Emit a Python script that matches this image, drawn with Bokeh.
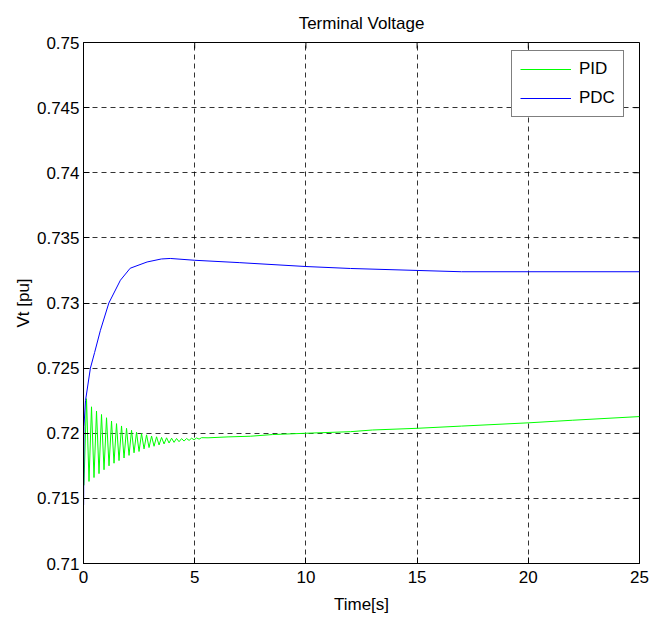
from bokeh.plotting import figure
from bokeh.models import FixedTicker, Legend, LegendItem, Range1d
from bokeh.embed import file_html
from bokeh.resources import INLINE

# ---------------- data ----------------
pdc_t = [0.0, 0.003, 0.02, 0.09, 0.31, 0.5, 0.76, 1.14, 1.66, 2.1, 2.86, 3.5, 3.9,
         5.0, 7.0, 10.0, 12.0, 15.0, 17.0, 20.0, 25.0]
pdc_v = [0.7445, 0.7145, 0.7205, 0.7225, 0.7250, 0.7262, 0.7279, 0.7300, 0.73175,
         0.73267, 0.73315, 0.73338, 0.73342, 0.73328, 0.7331, 0.7328, 0.73265,
         0.7325, 0.7324, 0.7324, 0.7324]

pid_peak_t = [0.135, 0.36, 0.585, 0.81, 1.035, 1.26, 1.485, 1.71, 1.935, 2.16,
              2.385, 2.61, 2.835, 3.06, 3.285, 3.51, 3.735, 3.96, 4.185, 4.41,
              4.635, 4.86, 5.085, 5.31]
pid_peak_v = [0.72265, 0.72203, 0.72170, 0.72144, 0.72119, 0.72094, 0.72074, 0.72056,
              0.72038, 0.72023, 0.72008, 0.71998, 0.71988, 0.71979, 0.71973, 0.71968,
              0.71965, 0.71962, 0.71960, 0.71959, 0.71960, 0.71962, 0.71964, 0.71966]
pid_trough_t = [0.02, 0.2475, 0.4725, 0.6975, 0.9225, 1.1475, 1.3725, 1.5975, 1.8225,
                2.0475, 2.2725, 2.4975, 2.7225, 2.9475, 3.1725, 3.3975, 3.6225, 3.8475,
                4.0725, 4.2975, 4.5225, 4.7475, 4.9725, 5.1975]
pid_trough_v = [0.7160, 0.7163, 0.7166, 0.7169, 0.7172, 0.7175, 0.7177, 0.7179, 0.7181,
                0.7183, 0.7185, 0.7186, 0.7188, 0.7189, 0.7190, 0.7191, 0.71918, 0.71925,
                0.7193, 0.71935, 0.7194, 0.71945, 0.7195, 0.71955]
pid_tail_t = [5.6, 6.5, 7.5, 8.5, 10.0, 12.0, 13.0, 15.0, 17.0, 20.0, 22.0, 25.0]
pid_tail_v = [0.71965, 0.71972, 0.71977, 0.71990, 0.72000, 0.72012, 0.72025, 0.72038,
              0.72055, 0.72080, 0.72100, 0.72128]

x_ticks = [0, 5, 10, 15, 20, 25]
y_ticks = [0.71, 0.715, 0.72, 0.725, 0.73, 0.735, 0.74, 0.745, 0.75]
y_tick_labels = ["0.71", "0.715", "0.72", "0.725", "0.73", "0.735", "0.74", "0.745", "0.75"]

title_text = "Terminal Voltage"
x_label = "Time[s]"
y_label = "Vt [pu]"
series_names = ["PID", "PDC"]

# merge PID oscillation peaks/troughs in time order, then the slow tail
osc = sorted(list(zip(pid_peak_t, pid_peak_v)) + list(zip(pid_trough_t, pid_trough_v)))
pid_t = [a for a, b in osc] + pid_tail_t
pid_v = [b for a, b in osc] + pid_tail_v

FONT = "Liberation Sans"
X0, X1, Y0, Y1 = 0, 25, 0.71, 0.75
W, H = 650, 624
ML, MR, MT, MB = 83, 11, 42, 61

p = figure(width=W, height=H, output_backend="svg", toolbar_location=None,
           x_range=Range1d(X0, X1), y_range=Range1d(Y0, Y1),
           min_border_left=ML, min_border_right=MR, min_border_top=MT, min_border_bottom=MB)
p.background_fill_color = "white"
p.border_fill_color = "white"
p.outline_line_color = "black"
p.outline_line_width = 1

p.title.text = title_text
p.title.align = "center"
p.title.text_font = FONT
p.title.text_font_size = "17px"
p.title.text_font_style = "normal"
p.title.text_color = "black"
p.title.standoff = 20

for ax in [p.xaxis[0], p.yaxis[0]]:
    ax.major_label_text_font = FONT
    ax.major_label_text_font_size = "17px"
    ax.major_label_text_color = "black"
    ax.axis_label_text_font = FONT
    ax.axis_label_text_font_size = "17px"
    ax.axis_label_text_font_style = "normal"
    ax.axis_label_text_color = "black"
    ax.major_tick_in = 6
    ax.major_tick_out = 0
    ax.minor_tick_line_color = None
    ax.axis_line_color = "black"
    ax.major_tick_line_color = "black"

p.xaxis[0].ticker = FixedTicker(ticks=x_ticks)
p.yaxis[0].ticker = FixedTicker(ticks=y_ticks)
p.yaxis[0].major_label_overrides = {t: l for t, l in zip(y_ticks, y_tick_labels)}
p.xaxis[0].axis_label = x_label
p.yaxis[0].axis_label = y_label
p.xaxis[0].major_label_standoff = 7
p.yaxis[0].major_label_standoff = 4
p.xaxis[0].axis_label_standoff = 9
p.yaxis[0].axis_label_standoff = 1

# inward ticks on the top and right edges of the box (6 px long)
fw = W - ML - MR
fh = H - MT - MB
dx = 6 * (X1 - X0) / fw
dy = 6 * (Y1 - Y0) / fh
p.segment(x0=x_ticks, y0=[Y1] * len(x_ticks), x1=x_ticks, y1=[Y1 - dy] * len(x_ticks),
          line_color="black", line_width=1)
p.segment(x0=[X1] * len(y_ticks), y0=y_ticks, x1=[X1 - dx] * len(y_ticks), y1=y_ticks,
          line_color="black", line_width=1)

p.xgrid.ticker = FixedTicker(ticks=x_ticks)
p.ygrid.ticker = FixedTicker(ticks=y_ticks)
for g in [p.xgrid[0], p.ygrid[0]]:
    g.grid_line_color = "black"
    g.grid_line_dash = "5 4"
    g.grid_line_width = 1
    g.grid_line_alpha = 0.8

r_pid = p.line(pid_t, pid_v, line_color="#00ff00", line_width=1)
r_pdc = p.line(pdc_t, pdc_v, line_color="#0000ff", line_width=1)

legend = Legend(items=[LegendItem(label=series_names[0], renderers=[r_pid]),
                       LegendItem(label=series_names[1], renderers=[r_pdc])],
                location=(428, 446), orientation="vertical")
legend.border_line_color = "black"
legend.border_line_width = 1
legend.background_fill_color = "white"
legend.background_fill_alpha = 1
legend.label_text_font = FONT
legend.label_text_font_size = "17px"
legend.label_text_color = "black"
legend.glyph_width = 51
legend.glyph_height = 20
legend.label_height = 20
legend.spacing = 9
legend.padding = 8
legend.margin = 0
legend.label_standoff = 8
p.add_layout(legend, "center")

open("out.html", "w").write(file_html(p, INLINE))
